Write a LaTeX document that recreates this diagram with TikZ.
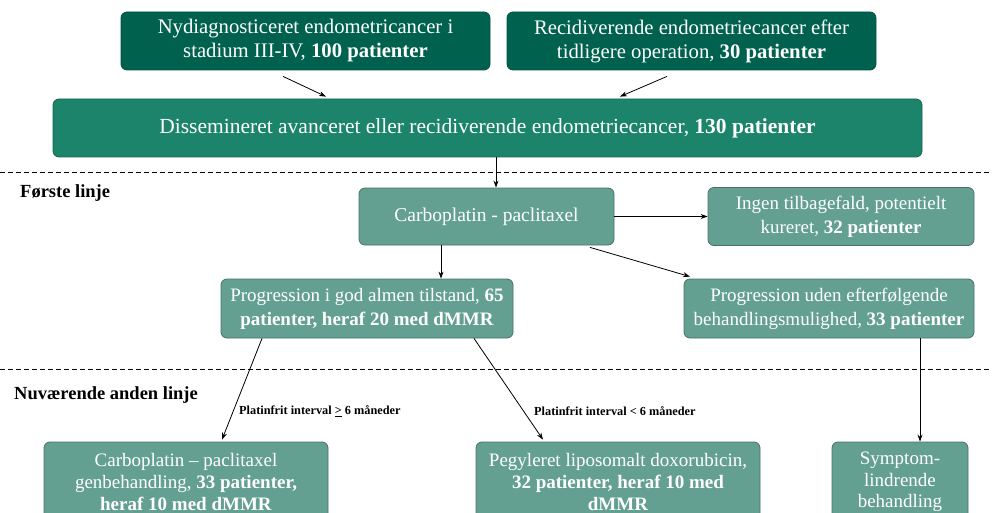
\documentclass[tikz,border=0pt]{standalone}
\usepackage{fontspec}
\setmainfont{Liberation Serif}
\usetikzlibrary{arrows.meta}
\definecolor{topgreen}{RGB}{0,98,78}
\definecolor{midgreen}{RGB}{27,132,106}
\definecolor{lightgreen}{RGB}{100,160,146}
\begin{document}
\begin{tikzpicture}[x=1pt,y=-1pt,
  box/.style={rounded corners=6pt, text=white, align=center, inner sep=0pt, line width=0.8pt,
    font=\fontsize{19}{24}\selectfont},
  darkbox/.style={box, fill=topgreen, draw=topgreen!85!black, font=\fontsize{20.7}{24}\selectfont},
  midbox/.style={box, fill=midgreen, draw=midgreen!75!black, font=\fontsize{21.5}{24}\selectfont},
  lightbox/.style={box, fill=lightgreen, draw=lightgreen!70!black},
  arr/.style={-{Stealth[length=7pt,width=5pt]}, line width=0.8pt},
  sep/.style={dashed, line width=0.9pt, dash pattern=on 5pt off 3pt},
  head/.style={font=\fontsize{18.5}{21}\selectfont\bfseries, anchor=west, inner sep=0pt},
  elabel/.style={font=\fontsize{12.3}{14}\selectfont\bfseries, anchor=west, inner sep=0pt}
]
\useasboundingbox (0,0) rectangle (992,513);

\node[darkbox, minimum width=369pt, minimum height=58pt] (a) at (305.5,41)
  {Nydiagnosticeret endometricancer i\\stadium III-IV, \textbf{100 patienter}};
\node[darkbox, minimum width=369pt, minimum height=58pt] (b) at (691.5,41)
  {Recidiverende endometriecancer efter\\tidligere operation, \textbf{30 patienter}};
\node[midbox, minimum width=869pt, minimum height=58pt] (w) at (487.5,128)
  {Dissemineret avanceret eller recidiverende endometriecancer, \textbf{130 patienter}};

\draw[sep] (0,172) -- (992,172);
\node[head] (h1) at (20,193) {Første linje};

\node[lightbox, minimum width=255pt, minimum height=57pt, font=\fontsize{19.5}{24}\selectfont] (c) at (486.5,216.5)
  {Carboplatin - paclitaxel};
\node[lightbox, minimum width=266pt, minimum height=58pt] (i) at (841,216.5)
  {Ingen tilbagefald, potentielt\\kureret, \textbf{32 patienter}};
\node[lightbox, minimum width=292pt, minimum height=59pt] (p) at (367,308.5)
  {Progression i god almen tilstand, \textbf{65}\\\textbf{patienter, heraf 20 med dMMR}};
\node[lightbox, minimum width=290pt, minimum height=59pt] (u) at (829,308.5)
  {Progression uden efterfølgende\\behandlingsmulighed, \textbf{33 patienter}};

\draw[sep] (0,369) -- (992,369);
\node[head] (h2) at (14,395) {Nuværende anden linje};

\node[lightbox, minimum width=284pt, minimum height=80pt, font=\fontsize{19}{21.7}\selectfont] (g) at (186,482)
  {Carboplatin – paclitaxel\\genbehandling, \textbf{33 patienter,}\\\textbf{heraf 10 med dMMR}};
\node[lightbox, minimum width=284pt, minimum height=80pt, font=\fontsize{19}{21.7}\selectfont] (q) at (618,482)
  {Pegyleret liposomalt doxorubicin,\\\textbf{32 patienter, heraf 10 med}\\\textbf{dMMR}};
\node[lightbox, minimum width=136pt, minimum height=80pt, font=\fontsize{19}{21.7}\selectfont] (s) at (900,482)
  {Symptom-\\lindrende\\behandling};

\draw[arr] ([xshift=-22.5pt,yshift=-6pt]a.south) -- ([xshift=-161.5pt,yshift=2pt]w.north);
\draw[arr] ([xshift=-24.5pt,yshift=-6pt]b.south) -- ([xshift=132.5pt,yshift=2pt]w.north);
\draw[arr] ([xshift=8.5pt]w.south) -- ([xshift=9.5pt]c.north);
\draw[arr] (c.east) -- (i.west);
\draw[arr] ([xshift=-45.5pt]c.south) -- ([xshift=74pt]p.north);
\draw[arr] ([xshift=103.5pt,yshift=-2pt]c.south) -- ([xshift=-139pt,yshift=2pt]u.north);
\draw[arr] ([xshift=-105pt]p.south) -- ([xshift=36pt,yshift=2pt]g.north);
\draw[arr] ([xshift=107pt]p.south) -- ([xshift=-75pt,yshift=2pt]q.north);
\draw[arr] ([xshift=91pt]u.south) -- ([xshift=20pt]s.north);

\node[elabel] (l1) at (239,411) {Platinfrit interval \underline{>} 6 måneder};
\node[elabel] (l2) at (534,411) {Platinfrit interval < 6 måneder};
\end{tikzpicture}
\end{document}
